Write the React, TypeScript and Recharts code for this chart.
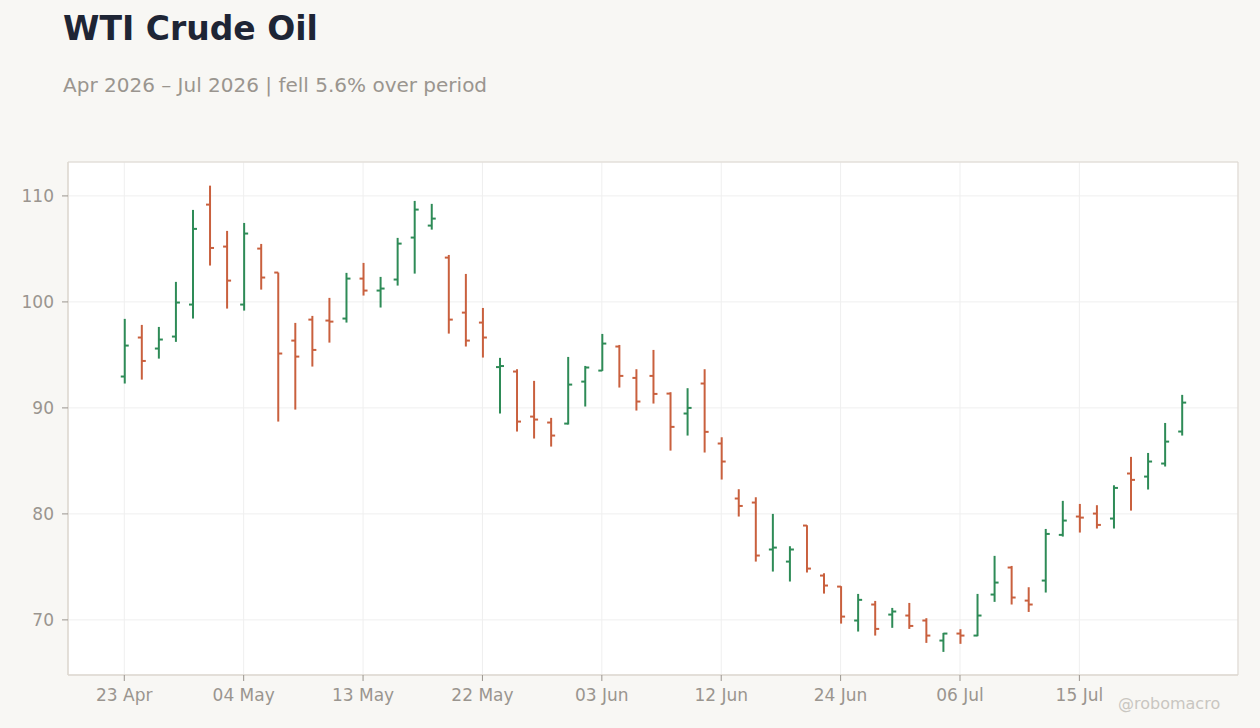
import React from 'react';
import { ComposedChart, Bar, XAxis, YAxis, CartesianGrid, ReferenceArea } from 'recharts';

const dates = [
  '23 Apr', '24 Apr', '27 Apr', '28 Apr', '29 Apr', '30 Apr', '01 May',
  '04 May', '05 May', '06 May', '07 May', '08 May', '11 May', '12 May',
  '13 May', '14 May', '15 May', '18 May', '19 May', '20 May', '21 May',
  '22 May', '26 May', '27 May', '28 May', '29 May', '01 Jun', '02 Jun',
  '03 Jun', '04 Jun', '05 Jun', '08 Jun', '09 Jun', '10 Jun', '11 Jun',
  '12 Jun', '15 Jun', '16 Jun', '17 Jun', '18 Jun', '22 Jun', '23 Jun',
  '24 Jun', '25 Jun', '26 Jun', '29 Jun', '30 Jun', '01 Jul', '02 Jul',
  '06 Jul', '07 Jul', '08 Jul', '09 Jul', '10 Jul', '13 Jul', '14 Jul',
  '15 Jul', '16 Jul', '17 Jul', '20 Jul', '21 Jul', '22 Jul', '23 Jul',
];

const opens = [
  92.96, 96.64, 95.6, 96.73, 99.75, 109.18, 105.22,
  99.75, 105.03, 102.77, 96.35, 98.33, 98.24, 98.43,
  102.2, 101.07, 102.11, 106.07, 107.2, 104.18, 98.99,
  98.05, 93.85, 93.43, 89.18, 88.62, 88.52, 92.48,
  93.52, 95.79, 92.83, 93.02, 91.35, 89.47, 92.3,
  86.64, 81.45, 81.07, 76.64, 75.5, 78.9, 74.18,
  73.14, 69.94, 71.45, 70.5, 70.41, 69.94, 68.05,
  68.71, 68.52, 72.39, 74.94, 71.82, 73.71, 78.02,
  79.75, 80.03, 79.56, 83.81, 83.52, 84.75, 87.77,
];

const highs = [
  98.4, 97.83, 97.64, 101.89, 108.68, 110.97, 106.7,
  107.45, 105.47, 102.77, 98.02, 98.68, 100.38, 102.74,
  103.68, 102.36, 106.04, 109.53, 109.25, 104.43, 102.64,
  99.43, 94.72, 93.65, 92.55, 89.06, 94.81, 93.96,
  96.98, 95.94, 93.65, 95.47, 91.48, 91.86, 93.65,
  87.23, 82.33, 81.57, 80.0, 76.95, 78.93, 74.4,
  73.18, 72.45, 71.79, 71.13, 71.6, 70.16, 68.77,
  69.12, 72.45, 76.04, 75.09, 73.08, 78.58, 81.23,
  80.94, 80.82, 82.7, 85.38, 85.75, 88.58, 91.23,
];

const lows = [
  92.3, 92.67, 94.65, 96.23, 98.43, 103.43, 99.37,
  99.18, 101.16, 88.71, 89.84, 93.9, 96.16, 98.05,
  100.6, 99.47, 101.54, 102.67, 106.82, 97.01, 95.79,
  94.75, 89.47, 87.77, 87.11, 86.35, 88.43, 90.13,
  93.49, 91.92, 89.75, 90.41, 85.97, 87.39, 85.79,
  83.24, 79.75, 75.5, 74.56, 73.62, 74.47, 72.48,
  69.65, 68.9, 68.52, 69.25, 69.15, 67.83, 66.98,
  67.74, 68.46, 71.7, 71.45, 70.75, 72.58, 77.86,
  78.24, 78.62, 78.62, 80.31, 82.3, 84.47, 87.39,
];

const closes = [
  95.88, 94.43, 96.45, 99.94, 106.89, 105.09, 102.01,
  106.45, 102.3, 95.13, 94.84, 95.47, 98.14, 102.2,
  101.07, 101.26, 105.5, 108.71, 107.86, 98.33, 96.35,
  96.64, 93.95, 88.71, 88.9, 87.39, 92.2, 93.81,
  96.07, 93.02, 90.6, 91.32, 88.21, 90.0, 87.74,
  84.94, 80.75, 76.07, 76.82, 76.64, 74.84, 73.24,
  70.31, 71.89, 69.15, 70.79, 69.43, 68.52, 68.71,
  68.52, 70.41, 73.52, 72.11, 71.45, 78.11, 79.37,
  79.65, 78.96, 82.45, 83.21, 84.94, 86.82, 90.5,
];

const yTicks = [70, 80, 90, 100, 110];
const xTicks = [0, 7, 14, 21, 28, 35, 42, 49, 56];
const yDomain: [number, number] = [64.8, 113.2];
const xDomain: [number, number] = [-3.3, 65.3];

const UP = '#2e8b57';
const DOWN = '#c9603e';
const TICK = '#9a958f';
const BORDER = '#ddd7cf';
const GRID = '#efefef';

const data = dates.map((d, i) => ({
  i,
  date: d,
  open: opens[i],
  high: highs[i],
  low: lows[i],
  close: closes[i],
  range: [lows[i], highs[i]],
}));

function OhlcShape(props: any) {
  const { x, y, width, height, payload } = props;
  if (!payload || x == null || y == null) return null;
  const { open, high, low, close } = payload;
  const cx = x + width / 2;
  const span = high - low;
  const toY = (v: number) => (span === 0 ? y : y + ((high - v) / span) * height);
  const color = close >= open ? UP : DOWN;
  const yo = toY(open);
  const yc = toY(close);
  return (
    <g>
      <line x1={cx} y1={y} x2={cx} y2={y + height} stroke={color} strokeWidth={2} />
      <line x1={cx - 4} y1={yo} x2={cx} y2={yo} stroke={color} strokeWidth={2} />
      <line x1={cx} y1={yc} x2={cx + 4} y2={yc} stroke={color} strokeWidth={2} />
    </g>
  );
}

export default function App() {
  return (
    <div
      style={{
        position: 'absolute',
        left: 0,
        top: 0,
        width: 1260,
        height: 728,
        background: '#f8f7f4',
        fontFamily: '"DejaVu Sans", sans-serif',
        overflow: 'hidden',
      }}
    >
      <div
        style={{
          position: 'absolute',
          left: 63,
          top: 12,
          fontSize: 33,
          lineHeight: '33px',
          fontWeight: 'bold',
          color: '#1e2535',
          whiteSpace: 'nowrap',
        }}
      >
        WTI Crude Oil
      </div>
      <div
        style={{
          position: 'absolute',
          left: 63,
          top: 75,
          fontSize: 20,
          lineHeight: '20px',
          color: '#9a958f',
          whiteSpace: 'nowrap',
        }}
      >
        Apr 2026 – Jul 2026 | fell 5.6% over period
      </div>
      <div style={{ position: 'absolute', left: 0, top: 0 }}>
        <ComposedChart
          width={1260}
          height={728}
          data={data}
          margin={{ top: 162, right: 22, bottom: 13, left: 8 }}
        >
          <CartesianGrid stroke={GRID} fill="#ffffff" fillOpacity={1} />
          <XAxis
            type="number"
            dataKey="i"
            domain={xDomain}
            ticks={xTicks}
            allowDataOverflow
            height={40}
            tickFormatter={(v: number) => dates[v] ?? ''}
            tick={{ fill: TICK, fontSize: 17 }}
            tickLine={{ stroke: TICK }}
            axisLine={{ stroke: BORDER }}
            tickSize={6}
            tickMargin={8}
          />
          <YAxis
            type="number"
            domain={yDomain}
            ticks={yTicks}
            allowDataOverflow
            width={60}
            tick={{ fill: TICK, fontSize: 17 }}
            tickLine={{ stroke: TICK }}
            axisLine={{ stroke: BORDER }}
            tickSize={6}
            tickMargin={8}
          />
          <ReferenceArea
            x1={xDomain[0]}
            x2={xDomain[1]}
            y1={yDomain[0]}
            y2={yDomain[1]}
            fill="none"
            stroke={BORDER}
            strokeOpacity={1}
            ifOverflow="visible"
          />
          <Bar dataKey="range" barSize={8} shape={OhlcShape} isAnimationActive={false} />
        </ComposedChart>
      </div>
      <div
        style={{
          position: 'absolute',
          left: 1118,
          top: 696,
          fontSize: 16,
          lineHeight: '16px',
          color: '#c9c6c1',
          whiteSpace: 'nowrap',
        }}
      >
        @robomacro
      </div>
    </div>
  );
}
